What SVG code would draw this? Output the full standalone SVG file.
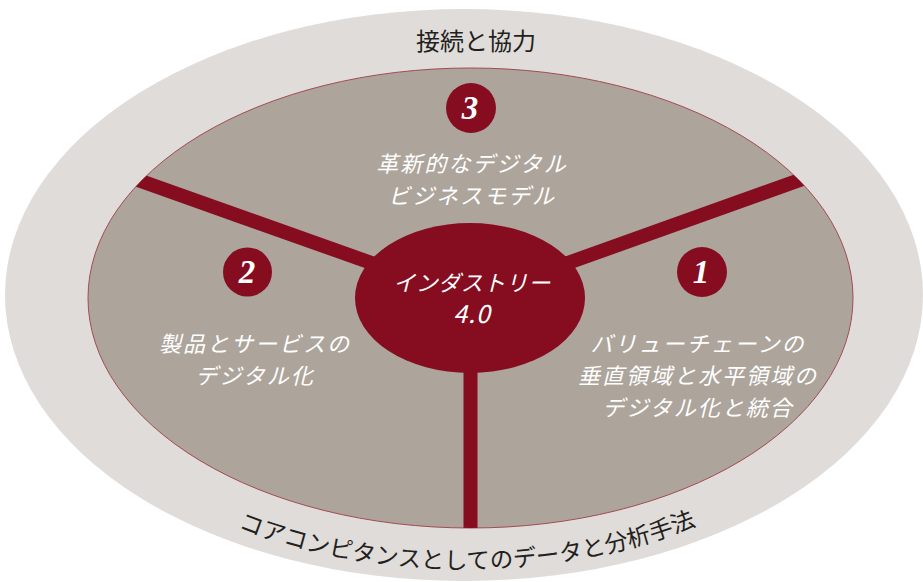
<svg xmlns="http://www.w3.org/2000/svg" width="923" height="582" viewBox="0 0 923 582">
<defs>
<style>
.jp{font-family:"Noto Sans CJK JP","Noto Sans",sans-serif;}
.wt{fill:#ffffff;font-size:22px;letter-spacing:2px;font-style:italic;text-anchor:middle;}
.dk{fill:#231f20;font-size:24px;text-anchor:middle;}
.num{font-family:"Liberation Serif","Times New Roman",serif;font-weight:bold;font-style:italic;font-size:33px;fill:#ffffff;text-anchor:middle;}
.red{fill:#850d1f;}
.spoke{stroke:#850d1f;stroke-width:14;fill:none;}
</style>
<clipPath id="innerClip"><ellipse cx="470.5" cy="298" rx="382.5" ry="230"/></clipPath>
<path id="bottomArc" d="M 34 295 A 430 274 0 0 0 894 295"/>
</defs>
<rect width="923" height="582" fill="#ffffff"/>
<g id="outer-ring">
<ellipse cx="464" cy="295" rx="459" ry="286" fill="#e0dcd9"/>
<text class="jp dk" x="476" y="50">接続と協力</text>
<text class="jp" font-size="23.5" fill="#231f20" text-anchor="middle"><textPath href="#bottomArc" startOffset="50.3%">コアコンピタンスとしてのデータと分析手法</textPath></text>
</g>
<g id="inner-field">
<ellipse cx="470.5" cy="298" rx="382.5" ry="230" fill="#ada59c" stroke="#a34a55" stroke-width="1"/>
</g>
<g id="connectors" clip-path="url(#innerClip)">
<line class="spoke" x1="470" y1="298" x2="76" y2="158"/>
<line class="spoke" x1="470" y1="298" x2="864" y2="157"/>
<line class="spoke" x1="470.5" y1="298" x2="470.5" y2="560"/>
</g>
<g id="hub">
<ellipse class="red" cx="470" cy="298" rx="115" ry="75"/>
<text class="jp wt" x="472" y="291" style="letter-spacing:0.5px">インダストリー</text>
<text class="jp wt" x="472" y="323" style="font-size:25px;letter-spacing:1px">4.0</text>
</g>
<g id="segment-3">
<circle class="red" cx="471" cy="108" r="25"/>
<text class="num" x="470" y="119">3</text>
<text class="jp wt" x="472" y="172">革新的なデジタル</text>
<text class="jp wt" x="472" y="204">ビジネスモデル</text>
</g>
<g id="segment-2">
<circle class="red" cx="247.5" cy="272" r="24.5"/>
<text class="num" x="247" y="283">2</text>
<text class="jp wt" x="255" y="352">製品とサービスの</text>
<text class="jp wt" x="255" y="384">デジタル化</text>
</g>
<g id="segment-1">
<circle class="red" cx="702" cy="272" r="25"/>
<text class="num" x="701" y="283">1</text>
<text class="jp wt" x="698" y="352">バリューチェーンの</text>
<text class="jp wt" x="698" y="384">垂直領域と水平領域の</text>
<text class="jp wt" x="698" y="416">デジタル化と統合</text>
</g>
</svg>
